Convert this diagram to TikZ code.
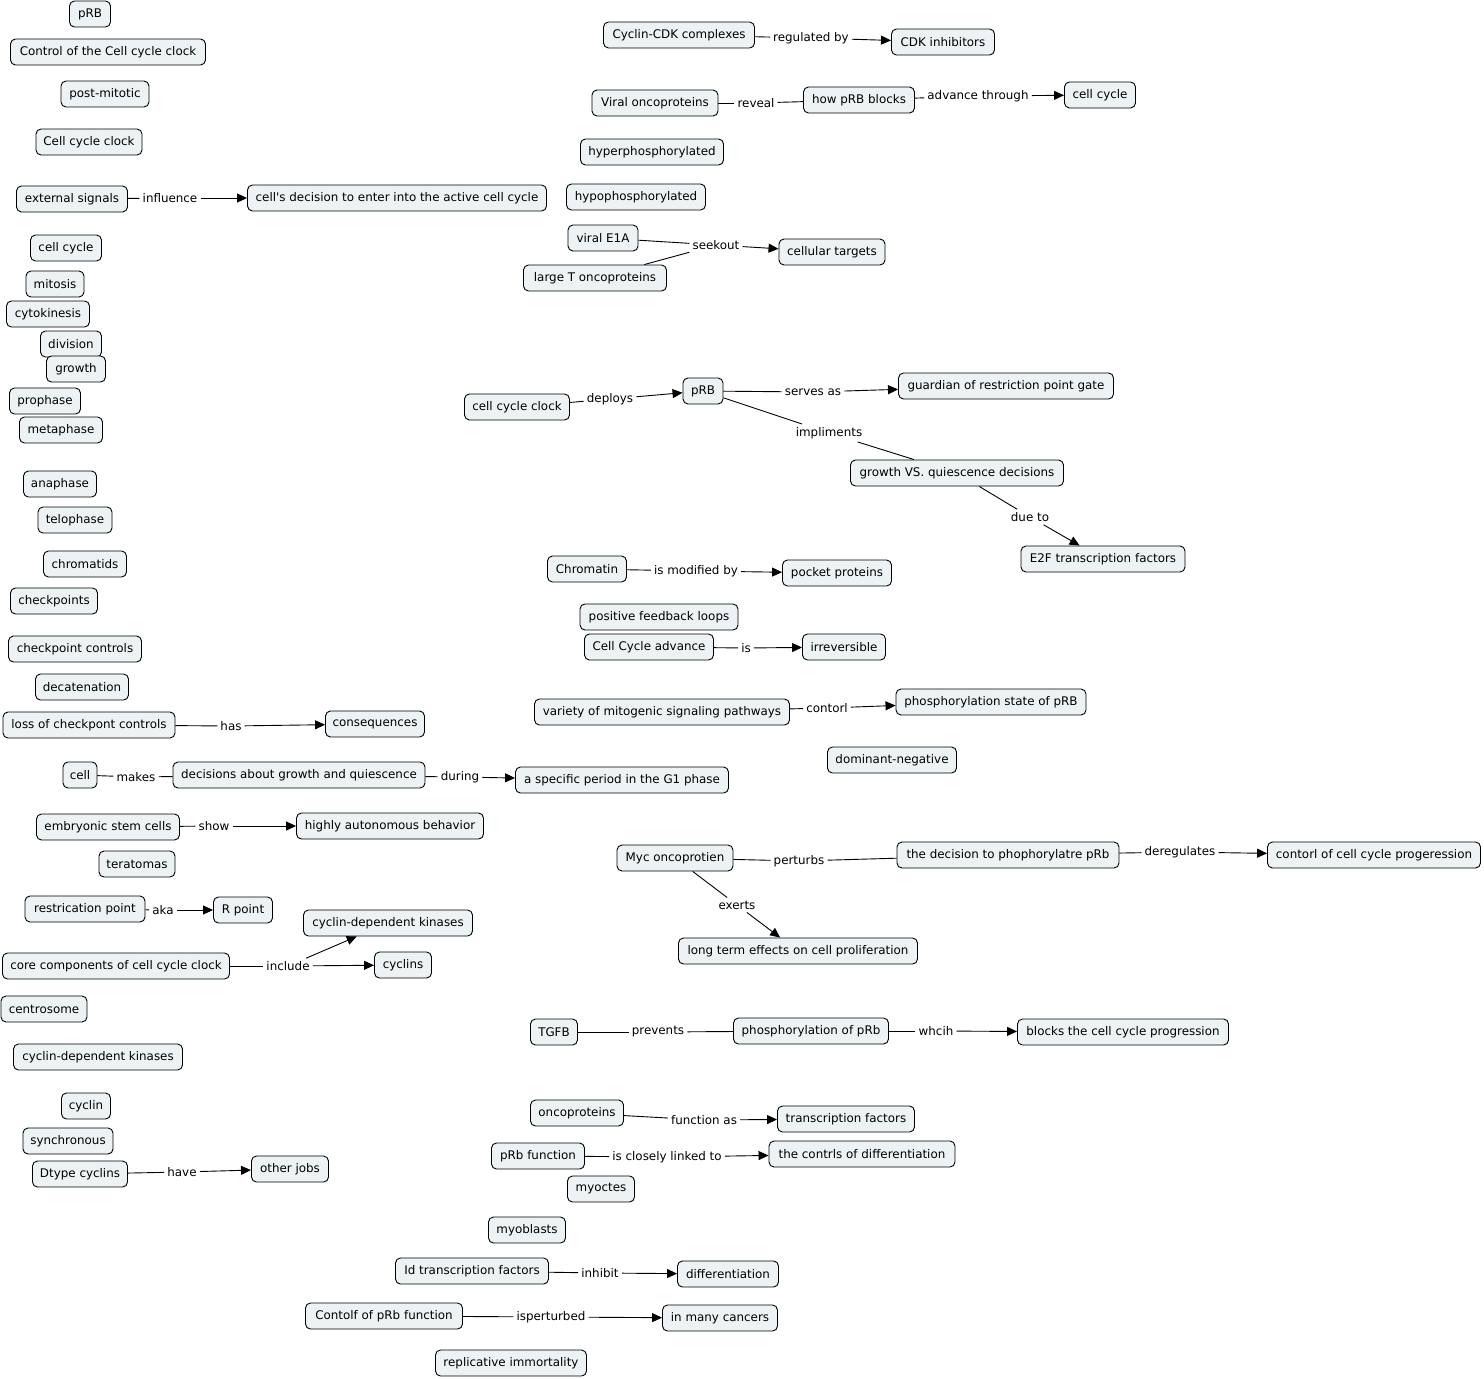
\documentclass[tikz,border=0pt]{standalone}
\usepackage{fontspec}
\setmainfont{DejaVu Sans}[Ligatures=TeXOff]
\usetikzlibrary{arrows.meta}
\definecolor{cfill}{RGB}{237,243,245}
\tikzset{
  concept/.style={draw=black, line width=0.9pt, fill=cfill, rounded corners=5pt,
    minimum height=26pt, inner xsep=3pt, inner ysep=2pt, font=\fontsize{11.9}{13}\selectfont},
  lbl/.style={inner xsep=3pt, inner ysep=3pt, font=\fontsize{11.9}{13}\selectfont},
  conn/.style={line width=0.9pt},
  arr/.style={line width=0.9pt, -{Triangle[length=10pt,width=9pt]}}
}
\begin{document}
\begin{tikzpicture}[x=1pt,y=-1pt]
\useasboundingbox (0,0) rectangle (1484,1379);
% left column
\node[concept, minimum width=41pt] (pRBtop) at (90,14) {pRB};
\node[concept, minimum width=195pt] (ctrlclock) at (108,52) {Control of the Cell cycle clock};
\node[concept, minimum width=88pt] (postmitotic) at (105,94) {post-mitotic};
\node[concept, minimum width=106pt] (cccL) at (89,142) {Cell cycle clock};
\node[concept, minimum width=111pt] (extsig) at (72,199) {external signals};
\node[concept, minimum width=299pt] (decision) at (397,198) {cell's decision to enter into the active cell cycle};
\node[concept, minimum width=71pt] (cellcycleL) at (66,248) {cell cycle};
\node[concept, minimum width=58pt] (mitosis) at (55,284) {mitosis};
\node[concept, minimum width=83pt] (cytokinesis) at (48,314) {cytokinesis};
\node[concept, minimum width=61pt] (division) at (71,344) {division};
\node[concept, minimum width=59pt] (growth) at (76,369) {growth};
\node[concept, minimum width=71pt] (prophase) at (45,401) {prophase};
\node[concept, minimum width=83pt] (metaphase) at (61,430) {metaphase};
\node[concept, minimum width=73pt] (anaphase) at (60,484) {anaphase};
\node[concept, minimum width=74pt] (telophase) at (75,520) {telophase};
\node[concept, minimum width=83pt] (chromatids) at (85,564) {chromatids};
\node[concept, minimum width=87pt] (checkpoints) at (54,601) {checkpoints};
\node[concept, minimum width=133pt] (cpctrl) at (75,649) {checkpoint controls};
\node[concept, minimum width=93pt] (decatenation) at (82,687) {decatenation};
\node[concept, minimum width=172pt] (losscp) at (89,725) {loss of checkpont controls};
\node[concept, minimum width=99pt] (consequences) at (375,724) {consequences};
\node[concept, minimum width=34pt] (cell) at (80,775) {cell};
\node[concept, minimum width=252pt] (decgq) at (299,775) {decisions about growth and quiescence};
\node[concept, minimum width=213pt] (specper) at (622,780) {a specific period in the G1 phase};
\node[concept, minimum width=143pt] (esc) at (108,827) {embryonic stem cells};
\node[concept, minimum width=187pt] (autonomous) at (390,826) {highly autonomous behavior};
\node[concept, minimum width=76pt] (teratomas) at (137,864) {teratomas};
\node[concept, minimum width=120pt] (restr) at (85,909) {restrication point};
\node[concept, minimum width=59pt] (Rpoint) at (243,910) {R point};
\node[concept, minimum width=227pt] (core) at (116,966) {core components of cell cycle clock};
\node[concept, minimum width=169pt] (cdkU) at (388,923) {cyclin-dependent kinases};
\node[concept, minimum width=57pt] (cyclins) at (403,965) {cyclins};
\node[concept, minimum width=86pt] (centrosome) at (44,1009) {centrosome};
\node[concept, minimum width=169pt] (cdkL) at (98,1057) {cyclin-dependent kinases};
\node[concept, minimum width=49pt] (cyclin) at (86,1106) {cyclin};
\node[concept, minimum width=90pt] (synchronous) at (68,1141) {synchronous};
\node[concept, minimum width=95pt] (dtype) at (80,1174) {Dtype cyclins};
\node[concept, minimum width=77pt] (otherjobs) at (290,1169) {other jobs};
% middle / right
\node[concept, minimum width=151pt] (cyclinCDK) at (679,35) {Cyclin-CDK complexes};
\node[concept, minimum width=103pt] (cdkinh) at (943,42) {CDK inhibitors};
\node[concept, minimum width=126pt] (viral) at (655,103) {Viral oncoproteins};
\node[concept, minimum width=111pt] (howprb) at (859,100) {how pRB blocks};
\node[concept, minimum width=71pt] (cellcycleR) at (1100,95) {cell cycle};
\node[concept, minimum width=143pt] (hyper) at (652,152) {hyperphosphorylated};
\node[concept, minimum width=139pt] (hypo) at (636,197) {hypophosphorylated};
\node[concept, minimum width=70pt] (e1a) at (603,238) {viral E1A};
\node[concept, minimum width=143pt] (largeT) at (595,278) {large T oncoproteins};
\node[concept, minimum width=106pt] (celltargets) at (832,252) {cellular targets};
\node[concept, minimum width=105pt] (cccM) at (517,407) {cell cycle clock};
\node[concept, minimum width=40pt] (pRBM) at (703,391) {pRB};
\node[concept, minimum width=215pt] (guardian) at (1006,386) {guardian of restriction point gate};
\node[concept, minimum width=213pt] (gvq) at (957,473) {growth VS. quiescence decisions};
\node[concept, minimum width=164pt] (e2f) at (1103,559) {E2F transcription factors};
\node[concept, minimum width=79pt] (chromatin) at (587,569) {Chromatin};
\node[concept, minimum width=109pt] (pocket) at (837,573) {pocket proteins};
\node[concept, minimum width=158pt] (posfb) at (659,617) {positive feedback loops};
\node[concept, minimum width=129pt] (ccadv) at (649,647) {Cell Cycle advance};
\node[concept, minimum width=83pt] (irrev) at (844,647) {irreversible};
\node[concept, minimum width=255pt] (variety) at (662,712) {variety of mitogenic signaling pathways};
\node[concept, minimum width=190pt] (phosstate) at (991,702) {phosphorylation state of pRB};
\node[concept, minimum width=129pt] (domneg) at (892,760) {dominant-negative};
\node[concept, minimum width=116pt] (myc) at (675,858) {Myc oncoprotien};
\node[concept, minimum width=222pt] (decphos) at (1008,855) {the decision to phophorylatre pRb};
\node[concept, minimum width=213pt] (contorl) at (1374,855) {contorl of cell cycle progeression};
\node[concept, minimum width=239pt] (longterm) at (798,951) {long term effects on cell proliferation};
\node[concept, minimum width=47pt] (tgfb) at (554,1032) {TGFB};
\node[concept, minimum width=155pt] (phospRb) at (811,1031) {phosphorylation of pRb};
\node[concept, minimum width=211pt] (blocks) at (1123,1032) {blocks the cell cycle progression};
\node[concept, minimum width=93pt] (oncoproteins) at (577,1113) {oncoproteins};
\node[concept, minimum width=137pt] (transfactors) at (846,1119) {transcription factors};
\node[concept, minimum width=93pt] (pRbfunc) at (538,1156) {pRb function};
\node[concept, minimum width=186pt] (contrls) at (862,1154) {the contrls of differentiation};
\node[concept, minimum width=67pt] (myoctes) at (601,1189) {myoctes};
\node[concept, minimum width=77pt] (myoblasts) at (527,1230) {myoblasts};
\node[concept, minimum width=153pt] (idtf) at (472,1271) {Id transcription factors};
\node[concept, minimum width=101pt] (differentiation) at (728,1274) {differentiation};
\node[concept, minimum width=157pt] (contolf) at (384,1316) {Contolf of pRb function};
\node[concept, minimum width=115pt] (manycancers) at (720,1318) {in many cancers};
\node[concept, minimum width=151pt] (replicative) at (511,1363) {replicative immortality};
% labels
\node[lbl] (linfluence) at (170,198) {influence};
\node[lbl] (lhas) at (231,726) {has};
\node[lbl] (lmakes) at (136,777) {makes};
\node[lbl] (lduring) at (460,777) {during};
\node[lbl] (lshow) at (214,826) {show};
\node[lbl] (laka) at (163,910) {aka};
\node[lbl] (linclude) at (288,966) {include};
\node[lbl] (lhave) at (182,1172) {have};
\node[lbl] (lregby) at (811,38) {regulated by};
\node[lbl] (lreveal) at (756,103) {reveal};
\node[lbl] (ladvance) at (978,96) {advance through};
\node[lbl] (lseekout) at (716,245) {seekout};
\node[lbl] (ldeploys) at (610,399) {deploys};
\node[lbl] (lserves) at (813,392) {serves as};
\node[lbl] (limpl) at (829,433) {impliments};
\node[lbl] (ldueto) at (1030,517) {due to};
\node[lbl] (lmodified) at (696,571) {is modified by};
\node[lbl] (lis) at (746,648) {is};
\node[lbl] (lcontorl) at (827,708) {contorl};
\node[lbl] (lperturbs) at (799,861) {perturbs};
\node[lbl] (lderegulates) at (1180,852) {deregulates};
\node[lbl] (lexerts) at (737,905) {exerts};
\node[lbl] (lprevents) at (658,1032) {prevents};
\node[lbl] (lwhcih) at (936,1031) {whcih};
\node[lbl] (lfuncas) at (704,1120) {function as};
\node[lbl] (llinked) at (667,1157) {is closely linked to};
\node[lbl] (linhibit) at (600,1273) {inhibit};
\node[lbl] (lisperturbed) at (551,1317) {isperturbed};
% connectors
\draw[conn] (extsig) -- (linfluence); \draw[arr] (linfluence) -- (decision);
\draw[conn] (losscp) -- (lhas); \draw[arr] (lhas) -- (consequences);
\draw[conn] (cell) -- (lmakes); \draw[conn] (lmakes) -- (decgq);
\draw[conn] (decgq) -- (lduring); \draw[arr] (lduring) -- (specper);
\draw[conn] (esc) -- (lshow); \draw[arr] (lshow) -- (autonomous);
\draw[conn] (restr) -- (laka); \draw[arr] (laka) -- (Rpoint);
\draw[conn] (core) -- (linclude); \draw[arr] (linclude) -- (cdkU); \draw[arr] (linclude) -- (cyclins);
\draw[conn] (dtype) -- (lhave); \draw[arr] (lhave) -- (otherjobs);
\draw[conn] (cyclinCDK) -- (lregby); \draw[arr] (lregby) -- (cdkinh);
\draw[conn] (viral) -- (lreveal); \draw[conn] (lreveal) -- (howprb);
\draw[conn] (howprb) -- (ladvance); \draw[arr] (ladvance) -- (cellcycleR);
\draw[conn] (e1a) -- (lseekout); \draw[conn] (largeT) -- (lseekout); \draw[arr] (lseekout) -- (celltargets);
\draw[conn] (cccM) -- (ldeploys); \draw[arr] (ldeploys) -- (pRBM);
\draw[conn] (pRBM) -- (lserves); \draw[arr] (lserves) -- (guardian);
\draw[conn] (pRBM) -- (limpl); \draw[conn] (limpl) -- (gvq);
\draw[conn] (gvq) -- (ldueto); \draw[arr] (ldueto) -- (e2f);
\draw[conn] (chromatin) -- (lmodified); \draw[arr] (lmodified) -- (pocket);
\draw[conn] (ccadv) -- (lis); \draw[arr] (lis) -- (irrev);
\draw[conn] (variety) -- (lcontorl); \draw[arr] (lcontorl) -- (phosstate);
\draw[conn] (myc) -- (lperturbs); \draw[conn] (lperturbs) -- (decphos);
\draw[conn] (decphos) -- (lderegulates); \draw[arr] (lderegulates) -- (contorl);
\draw[conn] (myc) -- (lexerts); \draw[arr] (lexerts) -- (longterm);
\draw[conn] (tgfb) -- (lprevents); \draw[conn] (lprevents) -- (phospRb);
\draw[conn] (phospRb) -- (lwhcih); \draw[arr] (lwhcih) -- (blocks);
\draw[conn] (oncoproteins) -- (lfuncas); \draw[arr] (lfuncas) -- (transfactors);
\draw[conn] (pRbfunc) -- (llinked); \draw[arr] (llinked) -- (contrls);
\draw[conn] (idtf) -- (linhibit); \draw[arr] (linhibit) -- (differentiation);
\draw[conn] (contolf) -- (lisperturbed); \draw[arr] (lisperturbed) -- (manycancers);
\end{tikzpicture}
\end{document}
